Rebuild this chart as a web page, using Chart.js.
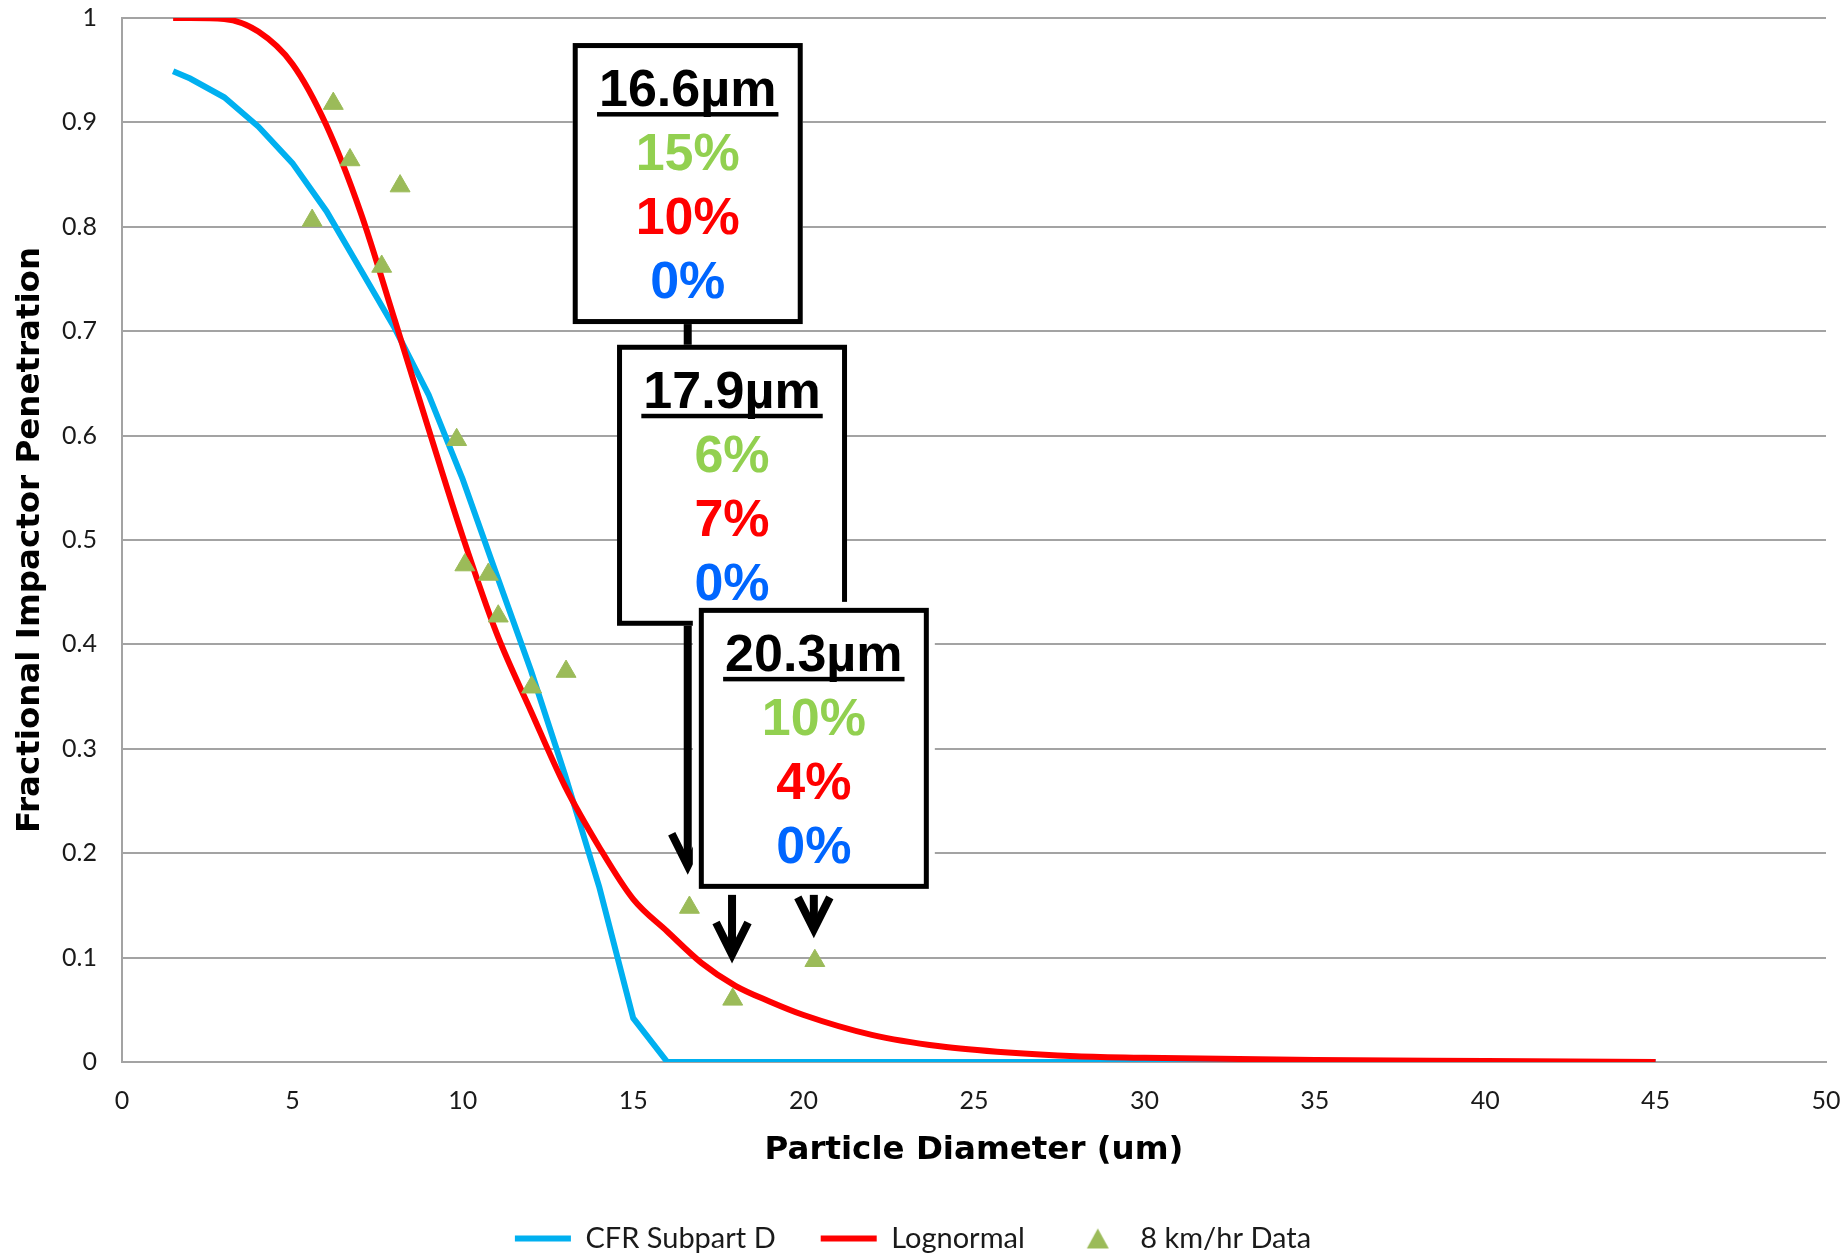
<!DOCTYPE html>
<html>
<head>
<meta charset="utf-8">
<script src="https://cdn.jsdelivr.net/npm/chart.js@4.4.1/dist/chart.umd.min.js"></script>
<style>
  html, body { margin: 0; padding: 0; background: #fff; }
  #wrap { width: 1845px; height: 1256px; }
</style>
</head>
<body>
<div id="wrap"><canvas id="chart" width="1845" height="1256"></canvas></div>
<script>
// CFR Subpart D penetration curve
const cfrX = [1.5, 2, 3, 4, 5, 6, 7, 8, 9, 10, 11, 12, 13, 14, 15, 16, 20, 25, 30, 35, 40, 45];
const cfrY = [0.949, 0.942, 0.924, 0.896, 0.861, 0.815, 0.759, 0.703, 0.639, 0.558, 0.466, 0.375, 0.275, 0.168, 0.042, 0, 0, 0, 0, 0, 0, 0];

// lognormal fit
const lognormalX = [1.5, 2, 3, 4, 5, 6, 7, 8, 9, 10, 11, 12, 13, 14, 15, 16, 17, 18, 19, 20, 22, 24, 26, 28, 30, 35, 40, 45];
const lognormalY = [1.0, 1.0, 0.999, 0.987, 0.956, 0.897, 0.814, 0.711, 0.606, 0.503, 0.41, 0.336, 0.264, 0.206, 0.156, 0.125, 0.095, 0.073, 0.058, 0.045, 0.026, 0.015, 0.009, 0.0055, 0.004, 0.002, 0.001, 0];

// 8 km/hr measurements
const fieldX = [5.58, 6.2, 6.69, 7.62, 8.16, 9.82, 10.06, 10.75, 11.04, 12.02, 13.03, 16.65, 17.92, 20.33];
const fieldY = [0.806, 0.918, 0.864, 0.762, 0.839, 0.596, 0.476, 0.467, 0.427, 0.359, 0.374, 0.148, 0.06, 0.097];

// callouts
const calloutSizes = [16.6, 17.9, 20.3];
const calloutField = ["15%", "6%", "10%"];
const calloutLognormal = ["10%", "7%", "4%"];
const calloutCfr = ["0%", "0%", "0%"];

// callout placement (value axis units) and look
const calloutTop = [0.976, 0.687, 0.435];
const calloutTip = [0.188, 0.103, 0.127];
const calloutHalo = [0, 0, 6];
const boxW = 230, boxH = 281;

const gridGray = "#a3a3a3";
const dataGreen = "#9bbb59";
const pts = (xs, ys) => xs.map((v, i) => ({ x: v, y: ys[i] }));

// legend marker for the data series (plain triangle, not stretched)
const legendTri = document.createElement("canvas");
legendTri.width = 24; legendTri.height = 22;
(() => {
  const c = legendTri.getContext("2d");
  c.fillStyle = dataGreen;
  c.beginPath();
  c.moveTo(12, 1); c.lineTo(23, 21); c.lineTo(1, 21);
  c.closePath();
  c.fill();
})();

const calloutPlugin = {
  id: "callouts",
  afterDraw(chart) {
    const { ctx, scales: { x, y } } = chart;
    ctx.save();
    calloutSizes.forEach((size, i) => {
      const cx = x.getPixelForValue(size);
      const top = y.getPixelForValue(calloutTop[i]);
      const bottom = top + boxH;
      const tip = y.getPixelForValue(calloutTip[i]);
      const left = cx - boxW / 2;

      // arrow
      ctx.strokeStyle = "#000";
      ctx.lineWidth = 8;
      ctx.lineJoin = "miter";
      ctx.lineCap = "butt";
      ctx.beginPath();
      ctx.moveTo(cx, bottom);
      ctx.lineTo(cx, tip);
      ctx.stroke();
      ctx.beginPath();
      ctx.moveTo(cx - 16, tip - 32);
      ctx.lineTo(cx, tip);
      ctx.lineTo(cx + 16, tip - 32);
      ctx.stroke();

      // box
      const halo = calloutHalo[i];
      ctx.fillStyle = "#fff";
      if (halo) ctx.fillRect(left - halo, top - halo, boxW + 2 * halo, boxH + 2 * halo);
      ctx.fillRect(left, top, boxW, boxH);
      ctx.lineWidth = 5;
      ctx.strokeRect(left + 2.5, top + 2.5, boxW - 5, boxH - 5);

      // text
      ctx.font = 'bold 52px "Liberation Sans", Arial, sans-serif';
      ctx.textAlign = "center";
      ctx.textBaseline = "alphabetic";
      const lines = [
        [size.toFixed(1) + "\u00b5m", "#000"],
        [calloutField[i], "#92d050"],
        [calloutLognormal[i], "#ff0000"],
        [calloutCfr[i], "#0066ff"]
      ];
      const base = [63, 127, 191, 255];
      lines.forEach(([t, c], k) => {
        ctx.fillStyle = c;
        ctx.fillText(t, cx, top + base[k]);
      });
      const tw = ctx.measureText(lines[0][0]).width;
      ctx.fillStyle = "#000";
      ctx.fillRect(cx - tw / 2 - 2, top + 69, tw + 4, 4.5);
    });
    ctx.restore();
  }
};

new Chart(document.getElementById("chart"), {
  type: "scatter",
  data: {
    datasets: [
      {
        label: "CFR Subpart D",
        data: pts(cfrX, cfrY),
        showLine: true,
        borderColor: "#00b0f0",
        backgroundColor: "#00b0f0",
        borderWidth: 6,
        pointRadius: 0,
        pointStyle: "line",
        tension: 0,
        order: 3
      },
      {
        label: "Lognormal",
        data: pts(lognormalX, lognormalY),
        showLine: true,
        borderColor: "#ff0000",
        backgroundColor: "#ff0000",
        borderWidth: 6,
        pointRadius: 0,
        pointStyle: "line",
        cubicInterpolationMode: "monotone",
        order: 2
      },
      {
        label: "8 km/hr Data",
        data: pts(fieldX, fieldY),
        pointStyle: "triangle",
        pointRadius: 11.5,
        borderWidth: 1,
        borderColor: dataGreen,
        backgroundColor: dataGreen,
        order: 1
      }
    ]
  },
  options: {
    responsive: false,
    animation: false,
    devicePixelRatio: 1,
    layout: { padding: { top: 18, right: 19, bottom: -7, left: 0 } },
    plugins: {
      tooltip: { enabled: false },
      legend: {
        position: "bottom",
        labels: {
          usePointStyle: true,
          pointStyleWidth: 56,
          boxHeight: 14,
          padding: 45,
          color: "#1a1a1a",
          font: { family: "Lato", size: 29 },
          sort: (a, b) => a.datasetIndex - b.datasetIndex,
          generateLabels(chart) {
            const items = Chart.defaults.plugins.legend.labels.generateLabels(chart);
            items.forEach(it => { if (it.pointStyle === "triangle") it.pointStyle = legendTri; });
            return items;
          }
        }
      }
    },
    scales: {
      x: {
        type: "linear",
        min: 0,
        max: 50,
        ticks: { stepSize: 5, padding: 2, color: "#1a1a1a", font: { family: "Lato", size: 25 } },
        grid: { display: false, drawTicks: true, tickLength: 22, tickColor: "rgba(0,0,0,0)" },
        border: { display: true, color: gridGray, width: 2 },
        title: {
          display: true,
          text: "Particle Diameter (um)",
          color: "#000",
          font: { family: "DejaVu Sans", weight: "bold", size: 32.5, lineHeight: 1.2 },
          padding: { top: 0, bottom: 9 }
        },
        afterFit(s) { s.height = 1256 - 1062 - s.chart.legend.height + 7; }
      },
      y: {
        type: "linear",
        min: 0,
        max: 1,
        ticks: {
          stepSize: 0.1,
          padding: 3,
          color: "#1a1a1a",
          font: { family: "Lato", size: 25 },
          callback: v => String(Number(v.toFixed(2)))
        },
        grid: { color: gridGray, lineWidth: 2, drawTicks: true, tickLength: 22, tickColor: "rgba(0,0,0,0)" },
        border: { display: true, color: gridGray, width: 2 },
        title: {
          display: true,
          text: "Fractional Impactor Penetration",
          color: "#000",
          font: { family: "DejaVu Sans", weight: "bold", size: 32.5, lineHeight: 1.2 },
          padding: { top: 11, bottom: 0 }
        },
        afterFit(s) { s.width = 122; }
      }
    }
  },
  plugins: [calloutPlugin]
});
</script>
</body>
</html>
